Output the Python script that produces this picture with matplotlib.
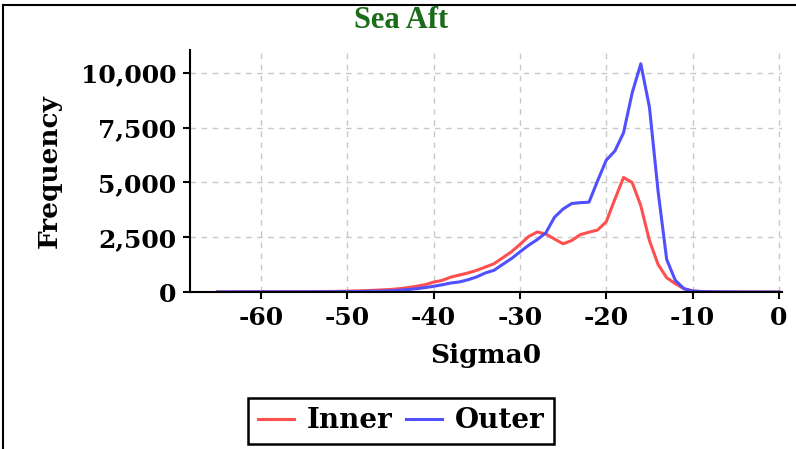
import matplotlib
matplotlib.use("Agg")
import matplotlib.pyplot as plt
from matplotlib.lines import Line2D
from matplotlib.ticker import FuncFormatter

# sigma0 bins, one per dB
sigma0 = list(range(-65, 1))

inner = [5, 5, 8, 8, 10, 10, 12, 12, 15, 15, 18, 20, 22, 25, 30,
         40, 50, 60, 75, 95, 115, 150, 200, 260, 330,
         450, 530, 680, 775, 870, 990, 1140, 1290, 1560, 1830,
         2170, 2530, 2740, 2650, 2420, 2200, 2350, 2620, 2730, 2830,
         3210, 4240, 5230, 5000, 3940, 2350, 1260, 650, 380, 150,
         50, 25, 15, 8, 5, 3, 2, 1, 1, 0, 0]

outer = [2, 2, 3, 3, 4, 4, 5, 5, 6, 6, 8, 8, 10, 12, 15,
         18, 22, 28, 35, 45, 55, 80, 110, 150, 200,
         260, 330, 410, 460, 560, 690, 870, 990, 1260, 1520,
         1830, 2130, 2390, 2700, 3410, 3790, 4040, 4080, 4100, 5080,
         6020, 6440, 7270, 9090, 10420, 8440, 4600, 1480, 530, 150,
         45, 20, 10, 5, 3, 2, 1, 1, 0, 0, 0]

xticks = [-60, -50, -40, -30, -20, -10, 0]
yticks = [0, 2500, 5000, 7500, 10000]

plt.rcParams["font.family"] = "DejaVu Serif"
plt.rcParams["font.weight"] = "bold"
plt.rcParams["axes.unicode_minus"] = False

fig = plt.figure(figsize=(7.96, 4.49), dpi=100)
ax = fig.add_axes([190/796, 1-292/449, 592/796, 242/449])

ax.plot(sigma0, inner, color="#ff5050", lw=2.2, label="Inner")
ax.plot(sigma0, outer, color="#5050ff", lw=2.2, label="Outer")

ax.set_xlim(-68.2, 0.35)
ax.set_ylim(0, 11050)
ax.set_xticks(xticks)
ax.set_yticks(yticks)
ax.yaxis.set_major_formatter(FuncFormatter(lambda v, p: f"{int(v):,}"))
ax.grid(True, color="#c8c8c8", ls=(0, (4, 4)), lw=1)
ax.set_axisbelow(True)

for s in ["top", "right"]:
    ax.spines[s].set_visible(False)
for s in ["left", "bottom"]:
    ax.spines[s].set_linewidth(1.5)
ax.tick_params(axis="both", labelsize=18, width=1.5, length=5, pad=5)

ax.set_xlabel("Sigma0", fontsize=19, fontweight="bold")
ax.set_ylabel("Frequency", fontsize=19, fontweight="bold")
ax.xaxis.set_label_coords(0.5, -0.21)
ax.yaxis.set_label_coords(-0.216, 0.5)

fig.text(401/796, 1-20/449, "Sea Aft", ha="center", va="center",
         family="Liberation Serif", fontsize=22, fontweight="bold", color="#1a6b1a")

leg = fig.legend(loc="center", bbox_to_anchor=(401/796, 1-421/449), ncol=2,
                 fontsize=20, frameon=True, fancybox=False, framealpha=1,
                 handlelength=1.3, columnspacing=0.5, handletextpad=0.45,
                 borderpad=0.35, borderaxespad=0)
leg.get_frame().set_edgecolor("black")
leg.get_frame().set_linewidth(1.8)

# outer border, left and top only
fig.add_artist(Line2D([3/796, 3/796], [0, 1-5/449], color="black", lw=1.5))
fig.add_artist(Line2D([3/796, 1], [1-5/449, 1-5/449], color="black", lw=1.5))

fig.savefig("out.png", dpi=100)
